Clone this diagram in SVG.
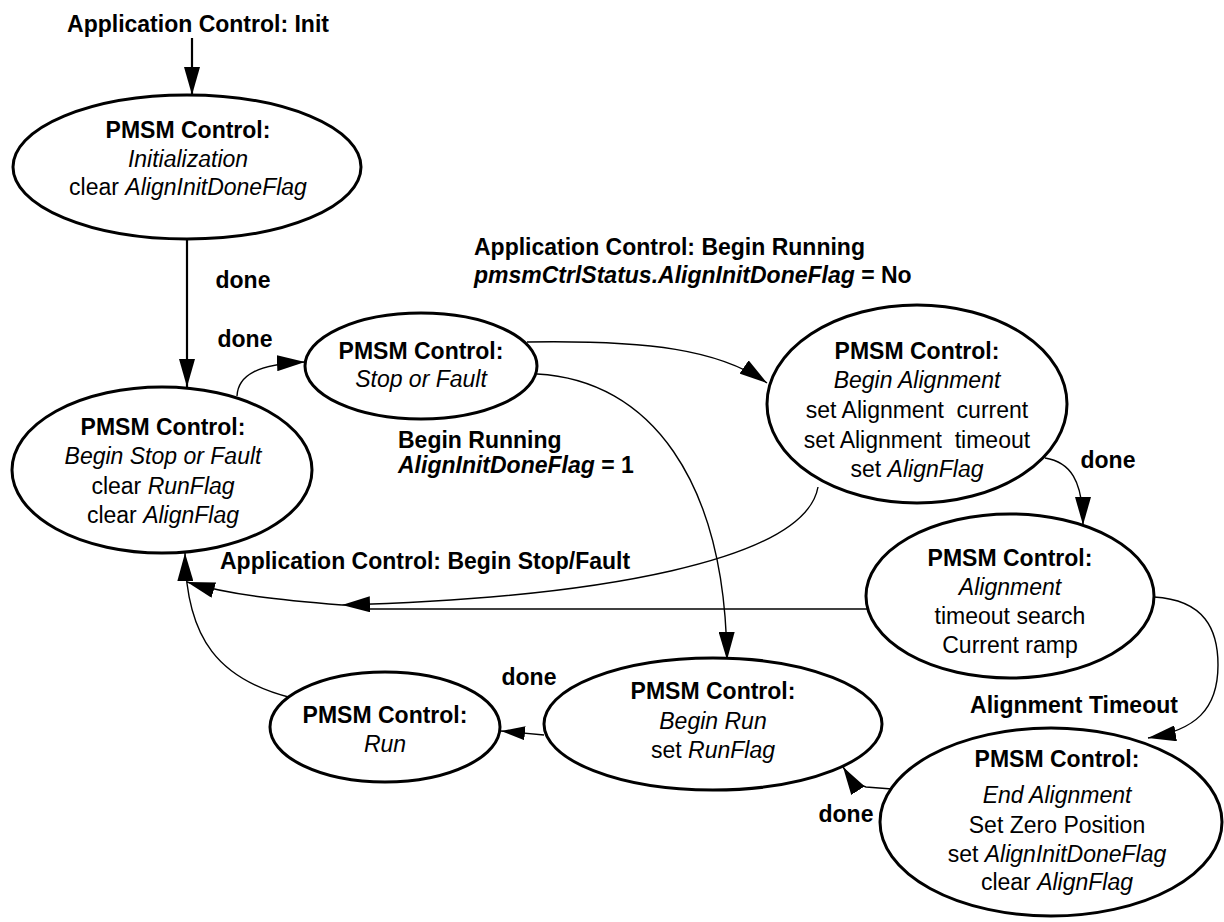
<svg xmlns="http://www.w3.org/2000/svg" width="1224" height="922" viewBox="0 0 1224 922">
<defs>
<marker id="ah" viewBox="0 0 28 16" refX="28" refY="8" markerWidth="28" markerHeight="16" markerUnits="userSpaceOnUse" orient="auto">
<path d="M0,0 L28,8 L0,16 z" fill="#000"/>
</marker>
<marker id="ahs" viewBox="0 0 24 14" refX="24" refY="7" markerWidth="24" markerHeight="14" markerUnits="userSpaceOnUse" orient="auto">
<path d="M0,0 L24,7 L0,14 z" fill="#000"/>
</marker>
</defs>
<style>
text{font-family:"Liberation Sans",Arial,sans-serif;font-size:23px;fill:#000;white-space:pre}
.b{font-weight:bold}
.i{font-style:italic}
.n text{text-anchor:middle}
.n ellipse{fill:#fff;stroke:#000;stroke-width:3}
.c path{fill:none;stroke:#000;stroke-width:1.4}
.c .thick{stroke-width:2.2}
.lbl{font-weight:bold}
</style>
<rect width="1224" height="922" fill="#fff"/>
<g class="c" id="connectors">
<path class="thick" d="M192,38 L192,95" marker-end="url(#ah)"/>
<path class="thick" d="M187,240 L187,387" marker-end="url(#ah)"/>
<path d="M237,396 C238,375 258,364 305,362" marker-end="url(#ah)"/>
<path d="M527,342 C650,340 720,350 767,383" marker-end="url(#ah)"/>
<path d="M537,374 C650,380 725,480 727,660" marker-end="url(#ah)"/>
<path d="M1045,458 C1070,462 1083,480 1083,525" marker-end="url(#ah)"/>
<path d="M818,487 C805,560 600,598 342,605" marker-end="url(#ah)"/>
<path d="M867,609 L370,609"/>
<path d="M342,605 C280,600 230,595 187,582" marker-end="url(#ah)"/>
<path d="M292,698 C220,680 186,640 185,553" marker-end="url(#ah)"/>
<path d="M544,735 L501,731" marker-end="url(#ahs)"/>
<path d="M1154,597 C1205,600 1218,630 1218,665 C1218,710 1195,730 1148,738" marker-end="url(#ah)"/>
<path d="M892,789 L866,787 C858,785 850,778 843,767" marker-end="url(#ah)"/>
</g>
<g id="labels">
<text class="lbl" x="198" y="32" text-anchor="middle">Application Control: Init</text>
<text class="lbl" x="243" y="288" text-anchor="middle">done</text>
<text class="lbl" x="245" y="347" text-anchor="middle">done</text>
<text class="lbl" x="474" y="255">Application Control: Begin Running</text>
<text class="lbl" x="474" y="283"><tspan class="i">pmsmCtrlStatus.AlignInitDoneFlag</tspan> = No</text>
<text class="lbl" x="398" y="448">Begin Running</text>
<text class="lbl" x="398" y="473"><tspan class="i">AlignInitDoneFlag</tspan> = 1</text>
<text class="lbl" x="1108" y="468" text-anchor="middle">done</text>
<text class="lbl" x="220" y="569">Application Control: Begin Stop/Fault</text>
<text class="lbl" x="529" y="685" text-anchor="middle">done</text>
<text class="lbl" x="1074" y="713" text-anchor="middle">Alignment Timeout</text>
<text class="lbl" x="846" y="822" text-anchor="middle">done</text>
</g>
<g class="n" id="n-init">
<ellipse cx="187" cy="167" rx="174" ry="72"/>
<text class="b" x="188" y="138">PMSM Control:</text>
<text class="i" x="188" y="167">Initialization</text>
<text x="188" y="195">clear <tspan class="i">AlignInitDoneFlag</tspan></text>
</g>
<g class="n" id="n-beginstop">
<ellipse cx="162" cy="470" rx="150" ry="83"/>
<text class="b" x="163" y="435">PMSM Control:</text>
<text class="i" x="163" y="464">Begin Stop or Fault</text>
<text x="163" y="494">clear <tspan class="i">RunFlag</tspan></text>
<text x="163" y="523">clear <tspan class="i">AlignFlag</tspan></text>
</g>
<g class="n" id="n-stop">
<ellipse cx="421" cy="366" rx="116" ry="53"/>
<text class="b" x="421" y="359">PMSM Control:</text>
<text class="i" x="421" y="387">Stop or Fault</text>
</g>
<g class="n" id="n-beginalign">
<ellipse cx="917" cy="404" rx="150" ry="99"/>
<text class="b" x="917" y="359">PMSM Control:</text>
<text class="i" x="917" y="388">Begin Alignment</text>
<text x="917" y="418">set Alignment  current</text>
<text x="917" y="448">set Alignment  timeout</text>
<text x="917" y="477">set <tspan class="i">AlignFlag</tspan></text>
</g>
<g class="n" id="n-align">
<ellipse cx="1010" cy="596" rx="144" ry="82"/>
<text class="b" x="1010" y="566">PMSM Control:</text>
<text class="i" x="1010" y="595">Alignment</text>
<text x="1010" y="624">timeout search</text>
<text x="1010" y="653">Current ramp</text>
</g>
<g class="n" id="n-endalign">
<ellipse cx="1051" cy="822" rx="171" ry="94"/>
<text class="b" x="1057" y="767">PMSM Control:</text>
<text class="i" x="1057" y="803">End Alignment</text>
<text x="1057" y="833">Set Zero Position</text>
<text x="1057" y="862">set <tspan class="i">AlignInitDoneFlag</tspan></text>
<text x="1057" y="890">clear <tspan class="i">AlignFlag</tspan></text>
</g>
<g class="n" id="n-beginrun">
<ellipse cx="713" cy="724" rx="169" ry="66"/>
<text class="b" x="713" y="699">PMSM Control:</text>
<text class="i" x="713" y="729">Begin Run</text>
<text x="713" y="758">set <tspan class="i">RunFlag</tspan></text>
</g>
<g class="n" id="n-run">
<ellipse cx="385" cy="727" rx="115" ry="55"/>
<text class="b" x="385" y="723">PMSM Control:</text>
<text class="i" x="385" y="752">Run</text>
</g>
</svg>
